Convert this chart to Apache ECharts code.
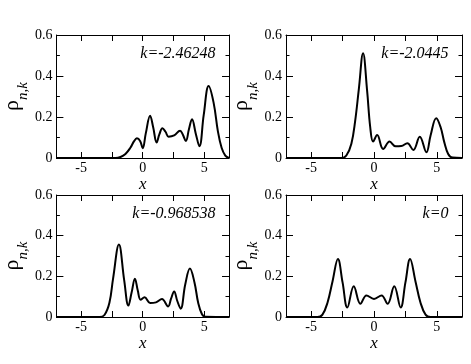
<!DOCTYPE html>
<html>
<head>
<meta charset="utf-8">
<script src="https://cdn.jsdelivr.net/npm/echarts@6/dist/echarts.min.js"></script>
<style>
    html, body {margin: 0; padding: 0; background: #fff;}
    #main {width: 471px; height: 364px;}
</style>
</head>
<body>
<div id="main"></div>
<script>
/* densities */
var x1 = [-7, -2.2, -1.8, -1.4, -1.0, -0.7, -0.47, -0.2, 0.0, 0.25, 0.6, 0.85, 1.13, 1.35, 1.6, 1.85, 2.1, 2.55, 3.03, 3.25, 3.5, 3.75, 4.0, 4.3, 4.6, 4.95, 5.35, 5.75, 6.1, 6.4, 6.7, 7];
var rho1 = [0, 0, 0.005, 0.02, 0.05, 0.082, 0.096, 0.082, 0.048, 0.12, 0.206, 0.15, 0.076, 0.115, 0.145, 0.128, 0.104, 0.11, 0.133, 0.115, 0.083, 0.14, 0.189, 0.12, 0.057, 0.21, 0.351, 0.27, 0.13, 0.05, 0.012, 0];

var x2 = [-7, -2.6, -2.2, -1.8, -1.5, -1.2, -0.87, -0.55, -0.3, -0.07, 0.25, 0.73, 1.24, 1.72, 2.17, 2.65, 3.13, 3.64, 4.17, 4.5, 4.95, 5.3, 5.6, 5.9, 6.25, 7];
var rho2 = [0, 0, 0.012, 0.07, 0.18, 0.34, 0.511, 0.33, 0.15, 0.08, 0.112, 0.044, 0.08, 0.057, 0.058, 0.072, 0.039, 0.104, 0.028, 0.11, 0.194, 0.15, 0.075, 0.02, 0.002, 0];

var x3 = [-7, -3.5, -3.1, -2.7, -2.4, -1.93, -1.5, -1.16, -0.9, -0.63, -0.4, -0.17, 0.15, 0.6, 1.08, 1.56, 2.06, 2.3, 2.55, 2.8, 3.08, 3.45, 3.83, 4.2, 4.5, 4.8, 5.1, 7];
var rho3 = [0, 0, 0.01, 0.07, 0.19, 0.356, 0.18, 0.056, 0.12, 0.188, 0.13, 0.085, 0.097, 0.069, 0.072, 0.088, 0.052, 0.09, 0.126, 0.08, 0.041, 0.16, 0.238, 0.17, 0.07, 0.015, 0.001, 0];

var x4 = [-7, -4.5, -4.1, -3.7, -3.3, -2.87, -2.5, -2.12, -1.61, -1.08, -0.6, 0, 0.6, 1.08, 1.61, 2.12, 2.5, 2.87, 3.3, 3.7, 4.1, 4.5, 7];
var rho4 = [0, 0, 0.012, 0.07, 0.175, 0.285, 0.17, 0.047, 0.151, 0.065, 0.106, 0.089, 0.106, 0.065, 0.151, 0.047, 0.17, 0.285, 0.175, 0.07, 0.012, 0, 0];

var kLabels = ['k=-2.46248', 'k=-2.0445', 'k=-0.968538', 'k=0'];
var xTickValues = [-5, -2.5, 0, 2.5, 5];
var xLabelValues = [-5, 0, 5];

var serif = 'Liberation Serif';

var panels = [
    {left: 53, top: 35, height: 123, x: x1, y: rho1},
    {left: 286, top: 35, height: 123, x: x2, y: rho2},
    {left: 53, top: 195, height: 122, x: x3, y: rho3},
    {left: 286, top: 195, height: 122, x: x4, y: rho4}
];
var plotWidth = 176;

var grids = [], xAxes = [], yAxes = [], seriesList = [], texts = [];

panels.forEach(function (p, i) {
    grids.push({left: p.left, top: p.top, width: plotWidth, height: p.height});

    var line = {onZero: false, lineStyle: {color: '#000', width: 1}};
    var xTick = {inside: true, length: 6, customValues: xTickValues, lineStyle: {color: '#000'}};

    xAxes.push({
        type: 'value', gridIndex: i, min: -7, max: 7, position: 'bottom',
        axisLine: line, axisTick: xTick, splitLine: {show: false},
        axisLabel: {customValues: xLabelValues, color: '#000', fontFamily: serif, fontSize: 14, margin: 3},
        name: 'x', nameLocation: 'middle', nameGap: 12,
        nameTextStyle: {color: '#000', fontFamily: serif, fontSize: 17, fontStyle: 'italic'}
    });
    xAxes.push({
        type: 'value', gridIndex: i, min: -7, max: 7, position: 'top',
        axisLine: line, axisTick: xTick, splitLine: {show: false},
        axisLabel: {show: false}
    });

    var yLine = {show: true, onZero: false, lineStyle: {color: '#000', width: 1}};
    var yTick = {inside: true, length: 7, lineStyle: {color: '#000'}};
    var yMinor = {show: true, splitNumber: 2, length: 3.5, lineStyle: {color: '#000'}};

    yAxes.push({
        type: 'value', gridIndex: i, min: 0, max: 0.6, interval: 0.2, position: 'left',
        axisLine: yLine, axisTick: yTick, minorTick: yMinor, splitLine: {show: false},
        axisLabel: {color: '#000', fontFamily: serif, fontSize: 14, margin: 4},
        name: '{r|ρ}{s|n,k}', nameLocation: 'middle', nameGap: 24, nameRotate: 90,
        nameTextStyle: {
            color: '#000', fontFamily: serif,
            rich: {
                r: {fontSize: 22, fontFamily: serif, color: '#000', verticalAlign: 'top', padding: [0, 0, 8, 0]},
                s: {fontSize: 15, fontFamily: serif, fontStyle: 'italic', color: '#000', verticalAlign: 'bottom'}
            }
        }
    });
    yAxes.push({
        type: 'value', gridIndex: i, min: 0, max: 0.6, interval: 0.2, position: 'right',
        axisLine: yLine, axisTick: yTick, minorTick: yMinor, splitLine: {show: false},
        axisLabel: {show: false}
    });

    seriesList.push({
        type: 'line',
        xAxisIndex: 2 * i,
        yAxisIndex: 2 * i,
        smooth: 0.4,
        showSymbol: false,
        silent: true,
        lineStyle: {color: '#000', width: 2},
        data: p.x.map(function (v, j) { return [v, p.y[j]]; })
    });

    texts.push({
        type: 'text',
        x: p.left + plotWidth - 13.5,
        y: p.top + 18.5,
        style: {
            text: kLabels[i],
            fill: '#000',
            font: 'italic 16px "Liberation Serif"',
            textAlign: 'right',
            textVerticalAlign: 'middle'
        }
    });
});

var myChart = echarts.init(document.getElementById('main'));
myChart.setOption({
    animation: false,
    backgroundColor: '#fff',
    grid: grids,
    xAxis: xAxes,
    yAxis: yAxes,
    series: seriesList,
    graphic: texts
});
</script>
</body>
</html>
